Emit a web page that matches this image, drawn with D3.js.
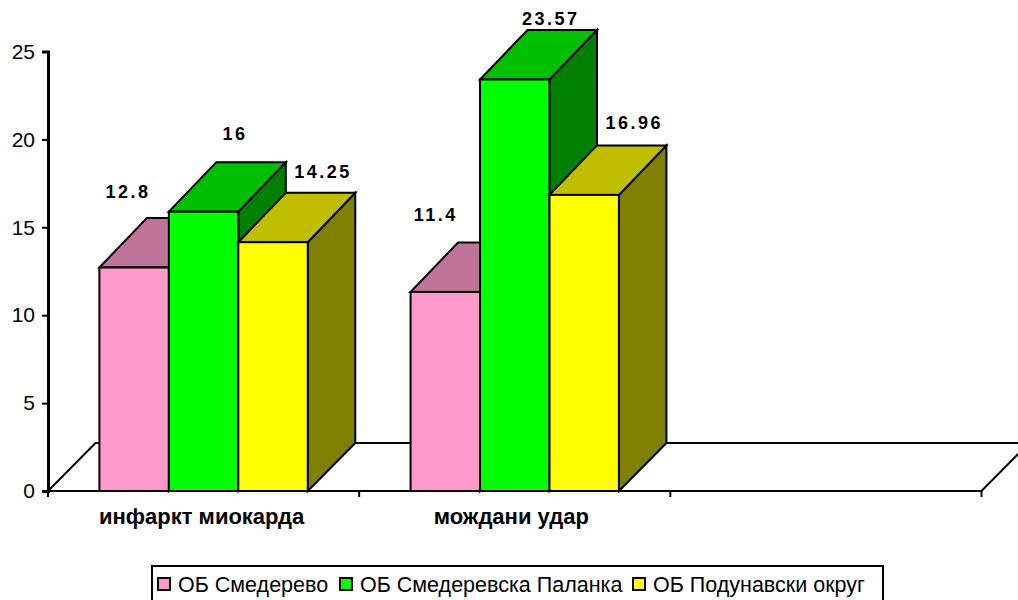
<!DOCTYPE html>
<html>
<head>
<meta charset="utf-8">
<script src="https://cdn.jsdelivr.net/npm/d3@7"></script>
<style>
  html, body { margin: 0; padding: 0; background: #fff; overflow: hidden; }
  svg { display: block; font-family: "Liberation Sans", Arial, sans-serif; }
</style>
</head>
<body>
<svg id="chart" width="1018" height="600"></svg>
<script>
// Values per hospital; the third slot of the axis is left empty.
const categories = ["инфаркт миокарда", "мождани удар", ""];
const seriesNames = ["ОБ Смедерево", "ОБ Смедеревска Паланка", "ОБ Подунавски округ"];
const smederevo = [12.8, 11.4];
const palanka = [16, 23.57];
const podunavlje = [14.25, 16.96];
const seriesValues = [smederevo, palanka, podunavlje];
const yTicks = [0, 5, 10, 15, 20, 25];

const frontColors = ["#ff99cc", "#00ff00", "#ffff00"];
const topColors = ["#bf7399", "#00bf00", "#bfbf00"];
const sideColors = ["#804d66", "#008000", "#808000"];

// Hand-placed value label offsets from each bar's centre and back top edge
const labelDx = [[-6, -9.5], [31.5, 36], [50, 50]];
const labelDy = [[-20, -21], [-22, -5], [-15, -16]];

const svg = d3.select("#chart");
const stroke = "#000";
const lineW = 2;

const x0 = d3.scaleBand().domain(d3.range(categories.length)).range([48, 981.5]);
const bars = d3.scaleBand().domain(d3.range(seriesNames.length))
  .range([0, x0.bandwidth()]).paddingOuter(0.74).paddingInner(0);
const y = d3.scaleLinear().domain([0, 25]).range([491, 54.5]);

// Oblique depth of the 3-D projection
const depthX = 47.5, depthY = -49.5, floorDepthY = -48;
const poly = pts => pts.map(p => p.join(",")).join(" ");

// Floor plane
svg.append("polygon")
  .attr("points", poly([[x0.range()[0], y(0)], [x0.range()[1], y(0)],
    [x0.range()[1] + depthX, y(0) + floorDepthY], [x0.range()[0] + depthX, y(0) + floorDepthY]]))
  .attr("fill", "#fff").attr("stroke", stroke).attr("stroke-width", lineW);

// Bars, left to right within each group: side and top faces, then the front
const plot = svg.append("g");
categories.forEach((_, c) => {
  seriesNames.forEach((_, s) => {
    const v = seriesValues[s][c];
    if (v === undefined) return;
    const l = x0(c) + bars(s), r = l + bars.bandwidth(), t = y(v), b = y(0);
    const g = plot.append("g");
    g.append("polygon")
      .attr("points", poly([[r, b], [r + depthX, b + floorDepthY], [r + depthX, t + depthY], [r, t]]))
      .attr("fill", sideColors[s]).attr("stroke", stroke).attr("stroke-width", lineW);
    g.append("polygon")
      .attr("points", poly([[l, t], [l + depthX, t + depthY], [r + depthX, t + depthY], [r, t]]))
      .attr("fill", topColors[s]).attr("stroke", stroke).attr("stroke-width", lineW);
    g.append("rect")
      .attr("x", l).attr("y", t).attr("width", r - l).attr("height", b - t)
      .attr("fill", frontColors[s]).attr("stroke", stroke).attr("stroke-width", lineW);
  });
});

// Value labels above the top faces
categories.forEach((_, c) => {
  seriesNames.forEach((_, s) => {
    const v = seriesValues[s][c];
    if (v === undefined) return;
    svg.append("text")
      .attr("x", x0(c) + bars(s) + bars.bandwidth() / 2 + labelDx[s][c])
      .attr("y", y(v) + depthY + labelDy[s][c])
      .attr("text-anchor", "middle")
      .attr("font-size", 18).attr("font-weight", "bold")
      .attr("letter-spacing", 2.5)
      .text(v);
  });
});

// Value axis
const yAxis = svg.append("g").attr("transform", "translate(48,0)")
  .call(d3.axisLeft(d3.scaleLinear().domain([0, 25]).range([491, 51.5]))
    .tickValues(yTicks).tickSize(6).tickPadding(7));
yAxis.selectAll("path,line").attr("stroke", stroke);
yAxis.select("path").attr("stroke-width", 3);
yAxis.selectAll("line").attr("stroke-width", 2);
yAxis.selectAll("text").attr("font-size", 21).attr("font-family", "Liberation Sans").attr("fill", "#000");

// Category axis
const xAxis = svg.append("g").attr("transform", `translate(0,${y(0)})`);
d3.range(categories.length + 1).forEach(i => {
  const px = 48 + i * x0.bandwidth();
  xAxis.append("line").attr("x1", px).attr("x2", px).attr("y1", 0).attr("y2", 6)
    .attr("stroke", stroke).attr("stroke-width", lineW);
});
categories.forEach((name, c) => {
  svg.append("text").attr("x", x0(c) + x0.bandwidth() / 2 - (c === 0 ? 2 : 3.5)).attr("y", 524)
    .attr("text-anchor", "middle").attr("font-size", 22).attr("font-weight", "bold").text(name);
});

// Legend
const legend = svg.append("g");
legend.append("rect").attr("x", 152).attr("y", 566).attr("width", 731).attr("height", 40)
  .attr("fill", "#fff").attr("stroke", stroke).attr("stroke-width", lineW);
const legendX = [158, 340, 633];
seriesNames.forEach((name, s) => {
  legend.append("rect").attr("x", legendX[s]).attr("y", 578).attr("width", 12).attr("height", 12)
    .attr("fill", frontColors[s]).attr("stroke", stroke).attr("stroke-width", 2);
  legend.append("text").attr("x", legendX[s] + 20).attr("y", 592)
    .attr("font-size", 21.5).text(name);
});
</script>
</body>
</html>
